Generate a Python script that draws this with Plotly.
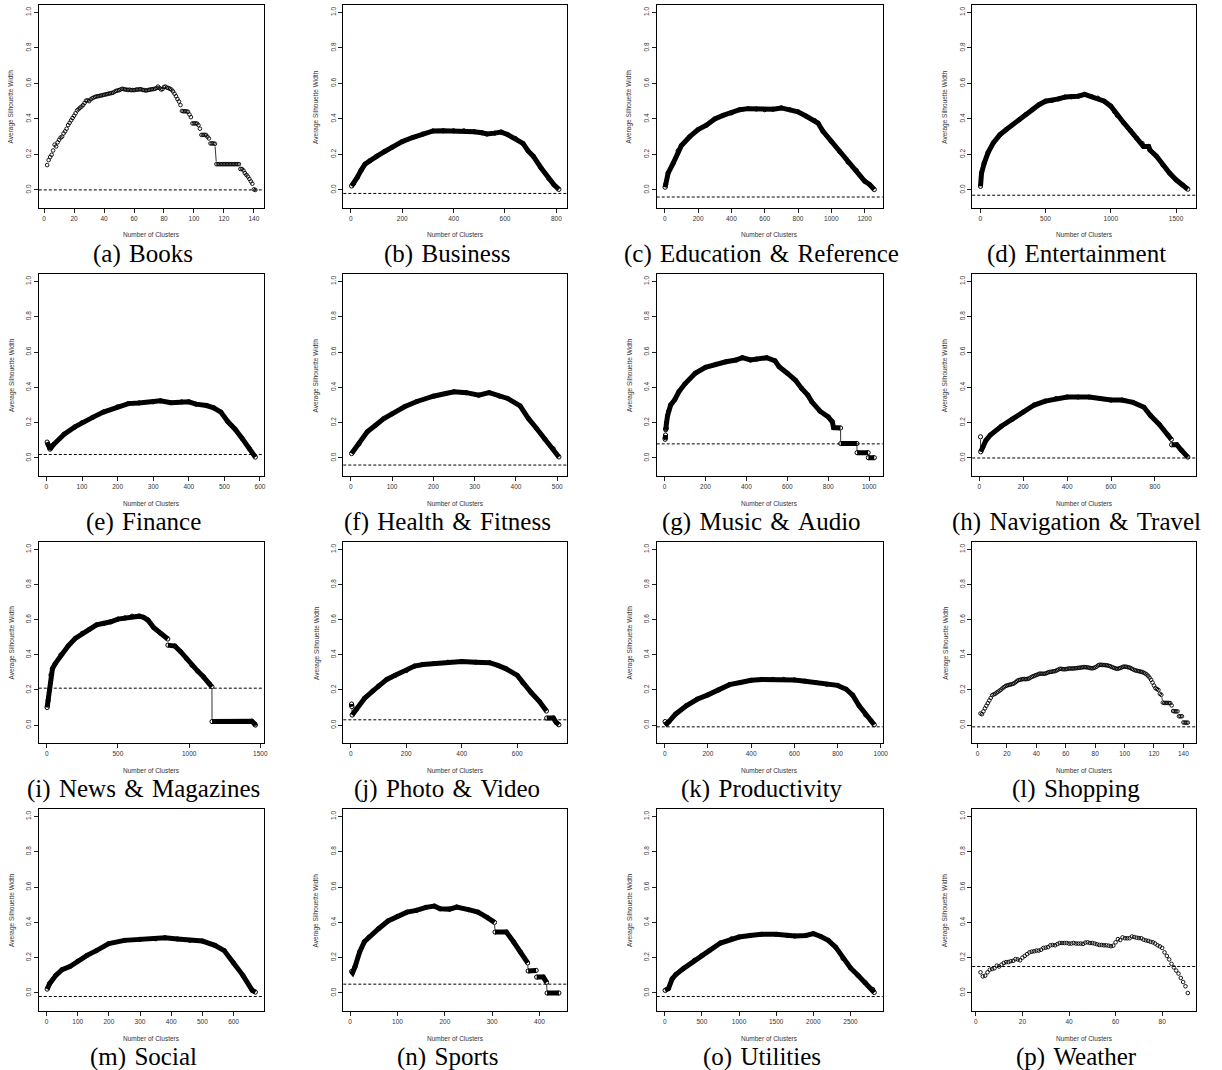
import math
import plotly.graph_objects as go

W, H = 1222, 1070
COLS = [(39, 265), (345, 570), (660, 887), (977, 1202)]
ROWS = [(5, 208), (274, 476), (542, 743), (809, 1011)]
Y_LO, Y_HI = -0.102, 1.042
SANS = "Liberation Sans, Arial, sans-serif"
SERIF = "Liberation Serif, Times New Roman, serif"


def px(v):
    return v / W


def py(v):
    return 1 - v / H


captions = ["(a) Books", "(b) Business", "(c) Education & Reference", "(d) Entertainment",
            "(e) Finance", "(f) Health & Fitness", "(g) Music & Audio", "(h) Navigation & Travel",
            "(i) News & Magazines", "(j) Photo & Video", "(k) Productivity", "(l) Shopping",
            "(m) Social", "(n) Sports", "(o) Utilities", "(p) Weather"]
hlines = [0.0, -0.02, -0.04, -0.03, 0.02, -0.04, 0.08, 0.0,
          0.21, 0.03, -0.01, -0.01, -0.02, 0.05, -0.02, 0.15]
xtick_steps = [20, 200, 200, 500, 100, 100, 200, 200, 500, 200, 200, 20, 100, 100, 500, 20]

# ---- sparse panels (every cluster count) ----
books_x = list(range(2, 142))
books_y = [0.140, 0.168, 0.185, 0.198, 0.222, 0.255, 0.245, 0.268, 0.282, 0.295,
           0.300, 0.318, 0.330, 0.345, 0.365, 0.378, 0.392, 0.405, 0.418, 0.432,
           0.448, 0.455, 0.463, 0.470, 0.478, 0.490, 0.503, 0.505, 0.500, 0.510,
           0.516, 0.520, 0.524, 0.527, 0.528, 0.530, 0.532, 0.534, 0.536, 0.538,
           0.540, 0.542, 0.544, 0.546, 0.548, 0.553, 0.558, 0.560, 0.562, 0.566,
           0.570, 0.568, 0.566, 0.565, 0.563, 0.565, 0.562, 0.563, 0.562, 0.564,
           0.566, 0.565, 0.568, 0.566, 0.563, 0.562, 0.560, 0.562, 0.564, 0.566,
           0.567, 0.568, 0.570, 0.574, 0.582, 0.574, 0.566, 0.568, 0.580, 0.582,
           0.576, 0.574, 0.570, 0.565, 0.555, 0.542, 0.528, 0.512, 0.498, 0.478,
           0.445, 0.443, 0.443, 0.443, 0.440, 0.425, 0.410, 0.375, 0.375, 0.375,
           0.374, 0.365, 0.345, 0.310, 0.310, 0.310, 0.310, 0.300, 0.290, 0.262,
           0.262, 0.262, 0.260, 0.145, 0.145, 0.145, 0.145, 0.145, 0.145, 0.145,
           0.145, 0.145, 0.145, 0.145, 0.145, 0.145, 0.145, 0.145, 0.145, 0.118,
           0.118, 0.110, 0.095, 0.085, 0.075, 0.062, 0.048, 0.035, 0.003, 0.000]

shop_x = list(range(2, 144))
shop_y = [0.066, 0.062, 0.078, 0.095, 0.110, 0.125, 0.140, 0.155, 0.170, 0.175,
          0.178, 0.185, 0.190, 0.196, 0.202, 0.210, 0.216, 0.222, 0.225, 0.228,
          0.230, 0.232, 0.235, 0.238, 0.245, 0.252, 0.256, 0.258, 0.260, 0.262,
          0.262, 0.261, 0.263, 0.265, 0.270, 0.275, 0.278, 0.282, 0.285, 0.288,
          0.292, 0.293, 0.292, 0.292, 0.293, 0.296, 0.300, 0.302, 0.303, 0.305,
          0.306, 0.308, 0.312, 0.316, 0.320, 0.320, 0.318, 0.318, 0.318, 0.320,
          0.322, 0.322, 0.322, 0.322, 0.323, 0.324, 0.325, 0.326, 0.327, 0.328,
          0.330, 0.330, 0.329, 0.328, 0.326, 0.324, 0.323, 0.325, 0.328, 0.333,
          0.340, 0.343, 0.343, 0.342, 0.342, 0.341, 0.340, 0.338, 0.335, 0.332,
          0.328, 0.325, 0.322, 0.320, 0.322, 0.325, 0.328, 0.332, 0.333, 0.332,
          0.330, 0.328, 0.325, 0.320, 0.316, 0.312, 0.310, 0.308, 0.306, 0.304,
          0.302, 0.298, 0.294, 0.288, 0.280, 0.270, 0.258, 0.242, 0.225, 0.210,
          0.205, 0.200, 0.178, 0.172, 0.128, 0.126, 0.126, 0.126, 0.126, 0.125,
          0.112, 0.080, 0.078, 0.078, 0.078, 0.050, 0.050, 0.050, 0.015, 0.014,
          0.014, 0.014]

weather_x = list(range(2, 92))
weather_y = [0.117, 0.094, 0.098, 0.117, 0.132, 0.136, 0.140, 0.155, 0.150, 0.160,
             0.170, 0.175, 0.175, 0.180, 0.182, 0.192, 0.190, 0.185, 0.200, 0.210,
             0.220, 0.230, 0.234, 0.236, 0.240, 0.240, 0.245, 0.255, 0.257, 0.260,
             0.270, 0.272, 0.270, 0.277, 0.283, 0.283, 0.283, 0.283, 0.280, 0.280,
             0.283, 0.280, 0.280, 0.280, 0.278, 0.285, 0.287, 0.283, 0.283, 0.280,
             0.276, 0.272, 0.272, 0.270, 0.270, 0.268, 0.265, 0.268, 0.287, 0.305,
             0.300, 0.315, 0.310, 0.310, 0.310, 0.320, 0.317, 0.313, 0.311, 0.310,
             0.302, 0.298, 0.295, 0.290, 0.287, 0.280, 0.270, 0.264, 0.255, 0.230,
             0.210, 0.190, 0.165, 0.145, 0.127, 0.110, 0.085, 0.062, 0.038, 0.000]

# ---- dense panels ----
bus_x = [3, 10, 25, 40, 55, 75, 100, 130, 160, 200, 240, 280, 320, 360, 400, 440, 480, 510, 530,
         560, 585, 610, 640, 670, 690, 710, 740, 770, 790, 810]
bus_y = [0.022, 0.035, 0.070, 0.110, 0.145, 0.165, 0.190, 0.215, 0.240, 0.272, 0.295, 0.315,
         0.332, 0.333, 0.333, 0.333, 0.328, 0.322, 0.315, 0.320, 0.326, 0.312, 0.290, 0.262,
         0.220, 0.190, 0.125, 0.065, 0.030, 0.003]

edu_x = [2, 5, 20, 50, 80, 100, 150, 200, 250, 300, 350, 400, 450, 500, 550, 600, 650, 700, 750,
         800, 850, 900, 920, 950, 1000, 1050, 1100, 1150, 1200, 1230, 1258]
edu_y = [0.015, 0.030, 0.095, 0.150, 0.220, 0.250, 0.300, 0.340, 0.365, 0.400, 0.420, 0.434,
         0.452, 0.458, 0.456, 0.452, 0.455, 0.462, 0.452, 0.440, 0.415, 0.390, 0.377, 0.330,
         0.273, 0.217, 0.157, 0.110, 0.050, 0.030, 0.002]

ent_x = [2, 10, 30, 60, 100, 150, 200, 300, 350, 400, 450, 500, 550, 600, 650, 700, 750, 800,
         850, 900, 950, 1000, 1030, 1050, 1100, 1150, 1200, 1240, 1250, 1290, 1300, 1350, 1400,
         1450, 1500, 1550, 1590]
ent_y = [0.020, 0.095, 0.150, 0.210, 0.265, 0.310, 0.340, 0.396, 0.425, 0.453, 0.480, 0.500,
         0.504, 0.513, 0.523, 0.525, 0.528, 0.538, 0.526, 0.517, 0.500, 0.472, 0.440, 0.420,
         0.377, 0.334, 0.290, 0.262, 0.245, 0.245, 0.225, 0.190, 0.140, 0.095, 0.057, 0.028,
         0.004]

fin_x = [2, 5, 9, 10, 20, 50, 80, 100, 130, 160, 200, 230, 260, 300, 320, 350, 380, 400, 420,
         450, 470, 490, 510, 530, 550, 570, 587]
fin_y = [0.090, 0.075, 0.060, 0.050, 0.076, 0.135, 0.176, 0.200, 0.230, 0.260, 0.290, 0.308,
         0.312, 0.318, 0.324, 0.313, 0.318, 0.318, 0.305, 0.297, 0.284, 0.260, 0.205, 0.163,
         0.110, 0.053, 0.005]

hea_x = [2, 20, 40, 60, 80, 100, 130, 160, 200, 230, 250, 280, 310, 335, 360, 380, 410, 430,
         450, 470, 490, 504]
hea_y = [0.025, 0.080, 0.148, 0.185, 0.223, 0.250, 0.290, 0.320, 0.350, 0.365, 0.375, 0.370,
         0.356, 0.370, 0.350, 0.337, 0.295, 0.224, 0.167, 0.106, 0.053, 0.006]

mus_x = [3, 4, 5, 6, 7, 8, 10, 15, 20, 30, 50, 70, 100, 150, 200, 250, 300, 350, 380, 420,
         450, 500, 540, 560, 600, 640, 670, 700, 720, 760, 800, 820, 826, 860, 861, 940, 941,
         995, 996, 1025]
mus_y = [0.106, 0.115, 0.130, 0.160, 0.165, 0.170, 0.200, 0.240, 0.265, 0.300, 0.330, 0.375,
         0.420, 0.480, 0.513, 0.530, 0.545, 0.555, 0.568, 0.555, 0.560, 0.568, 0.550, 0.517,
         0.480, 0.440, 0.394, 0.356, 0.318, 0.265, 0.233, 0.205, 0.172, 0.170, 0.082, 0.082,
         0.030, 0.030, 0.002, 0.002]

nav_x = [5, 6, 15, 30, 50, 100, 150, 200, 250, 300, 350, 400, 450, 500, 550, 600, 650, 700,
         750, 780, 820, 860, 875, 876, 900, 920, 950]
nav_y = [0.120, 0.035, 0.060, 0.100, 0.130, 0.180, 0.220, 0.260, 0.300, 0.322, 0.337, 0.345,
         0.345, 0.345, 0.337, 0.328, 0.328, 0.315, 0.287, 0.240, 0.190, 0.130, 0.105, 0.075,
         0.075, 0.045, 0.005]

news_x = [3, 10, 20, 30, 40, 60, 100, 150, 200, 250, 300, 350, 400, 450, 500, 550, 600, 650,
          680, 710, 750, 800, 850, 851, 900, 940, 980, 1020, 1060, 1100, 1140, 1160, 1161,
          1300, 1440, 1460, 1465]
news_y = [0.100, 0.140, 0.200, 0.285, 0.320, 0.350, 0.400, 0.450, 0.493, 0.522, 0.545, 0.570,
          0.578, 0.588, 0.603, 0.610, 0.620, 0.620, 0.613, 0.598, 0.556, 0.522, 0.490, 0.455,
          0.450, 0.418, 0.380, 0.340, 0.307, 0.275, 0.237, 0.218, 0.020, 0.020, 0.022, 0.006,
          0.000]

pho_x = [3, 4, 5, 20, 50, 80, 100, 130, 160, 200, 230, 260, 300, 350, 400, 450, 500, 530, 560,
         600, 620, 650, 680, 705, 706, 730, 740, 750]
pho_y = [0.120, 0.105, 0.057, 0.090, 0.153, 0.195, 0.222, 0.260, 0.283, 0.310, 0.336, 0.345,
         0.350, 0.358, 0.362, 0.358, 0.355, 0.340, 0.320, 0.283, 0.240, 0.185, 0.134, 0.080,
         0.040, 0.040, 0.015, 0.002]

pro_x = [2, 10, 20, 50, 100, 150, 200, 250, 300, 350, 400, 450, 500, 550, 600, 650, 700, 750,
         800, 840, 870, 900, 930, 955, 970]
pro_y = [0.020, 0.008, 0.020, 0.062, 0.110, 0.147, 0.172, 0.200, 0.230, 0.242, 0.255, 0.260,
         0.260, 0.260, 0.257, 0.250, 0.242, 0.232, 0.226, 0.204, 0.170, 0.110, 0.058, 0.025,
         0.002]

soc_x = [2, 10, 30, 50, 75, 100, 130, 160, 200, 250, 300, 350, 380, 420, 460, 500, 540, 570,
         600, 630, 660, 670]
soc_y = [0.022, 0.053, 0.100, 0.132, 0.150, 0.180, 0.213, 0.240, 0.280, 0.298, 0.304, 0.307,
         0.313, 0.306, 0.298, 0.294, 0.270, 0.240, 0.170, 0.100, 0.015, 0.005]

spo_x = [3, 5, 10, 20, 30, 40, 60, 80, 100, 120, 140, 160, 178, 190, 210, 225, 250, 270, 290,
         305, 306, 330, 345, 360, 375, 376, 393, 394, 408, 415, 416, 441]
spo_y = [0.122, 0.115, 0.147, 0.232, 0.290, 0.317, 0.364, 0.408, 0.434, 0.458, 0.468, 0.485,
         0.492, 0.477, 0.475, 0.487, 0.472, 0.458, 0.427, 0.400, 0.345, 0.345, 0.290, 0.232,
         0.170, 0.125, 0.128, 0.090, 0.090, 0.060, 0.000, 0.000]

uti_x = [5, 50, 100, 150, 250, 400, 500, 600, 750, 900, 1000, 1150, 1300, 1500, 1650, 1750,
         1900, 2000, 2100, 2200, 2300, 2400, 2500, 2600, 2700, 2800, 2820]
uti_y = [0.015, 0.025, 0.080, 0.105, 0.138, 0.185, 0.213, 0.240, 0.283, 0.307, 0.317, 0.326,
         0.332, 0.332, 0.326, 0.323, 0.326, 0.336, 0.320, 0.298, 0.260, 0.195, 0.142, 0.100,
         0.058, 0.020, 0.003]

series = [(books_x, books_y, True), (bus_x, bus_y, False), (edu_x, edu_y, False),
          (ent_x, ent_y, False), (fin_x, fin_y, False), (hea_x, hea_y, False),
          (mus_x, mus_y, False), (nav_x, nav_y, False), (news_x, news_y, False),
          (pho_x, pho_y, False), (pro_x, pro_y, False), (shop_x, shop_y, True),
          (soc_x, soc_y, False), (spo_x, spo_y, False), (uti_x, uti_y, False),
          (weather_x, weather_y, True)]

fig = go.Figure()
layout = {}
annotations = []
shapes = []
R_GAP = 2.6

for i, (xs, ys, sparse) in enumerate(series):
    n = i + 1
    r, c = divmod(i, 4)
    l, rr = COLS[c]
    t, b = ROWS[r]
    bw, bh = rr - l, b - t
    xa = "x" if n == 1 else f"x{n}"
    ya = "y" if n == 1 else f"y{n}"
    span = max(xs) - min(xs)
    xr = [min(xs) - 0.04 * span, max(xs) + 0.04 * span]
    sx = bw / (xr[1] - xr[0])
    sy = bh / (Y_HI - Y_LO)

    def is_jump(k):
        return (xs[k + 1] - xs[k]) <= 1 and abs(ys[k + 1] - ys[k]) > 0.02

    # thin connector segments (R type="b" style: gaps around points)
    cx, cy = [], []
    for k in range(len(xs) - 1):
        if sparse or is_jump(k):
            dxp = (xs[k + 1] - xs[k]) * sx
            dyp = (ys[k + 1] - ys[k]) * sy
            d = math.hypot(dxp, dyp)
            if d > 2 * R_GAP + 2:
                f = R_GAP / d
                cx += [xs[k] + (xs[k + 1] - xs[k]) * f, xs[k + 1] - (xs[k + 1] - xs[k]) * f, None]
                cy += [ys[k] + (ys[k + 1] - ys[k]) * f, ys[k + 1] - (ys[k + 1] - ys[k]) * f, None]
    if cx:
        fig.add_trace(go.Scatter(x=cx, y=cy, mode="lines", xaxis=xa, yaxis=ya,
                                 line=dict(color="black", width=0.8), hoverinfo="skip"))

    if not sparse:
        tx, ty = [], []
        for k in range(len(xs)):
            if k > 0 and is_jump(k - 1):
                tx.append(None)
                ty.append(None)
            tx.append(xs[k])
            ty.append(ys[k])
        fig.add_trace(go.Scatter(x=tx, y=ty, mode="lines", xaxis=xa, yaxis=ya,
                                 line=dict(color="black", width=5), hoverinfo="skip"))
        msize, mlw = 4.2, 1.0
    else:
        msize, mlw = 3.6, 0.9

    fig.add_trace(go.Scatter(x=xs, y=ys, mode="markers", xaxis=xa, yaxis=ya,
                             marker=dict(symbol="circle-open", size=msize, color="black",
                                         line=dict(color="black", width=mlw)),
                             hoverinfo="skip"))

    axis_common = dict(showline=True, mirror=True, linecolor="black", linewidth=1,
                       ticks="outside", ticklen=4, tickwidth=0.8, tickcolor="#222",
                       showgrid=False, zeroline=False,
                       tickfont=dict(family=SANS, size=6.5, color="#333"))
    layout["xaxis" if n == 1 else f"xaxis{n}"] = dict(
        domain=[px(l), px(rr)], range=xr, anchor=ya, tickmode="linear", tick0=0,
        dtick=xtick_steps[i], **axis_common)
    layout["yaxis" if n == 1 else f"yaxis{n}"] = dict(
        domain=[py(b), py(t)], range=[Y_LO, Y_HI], anchor=xa,
        tickvals=[0, 0.2, 0.4, 0.6, 0.8, 1.0],
        ticktext=["0.0", "0.2", "0.4", "0.6", "0.8", "1.0"], tickangle=-90, **axis_common)

    shapes.append(dict(type="line", xref=f"{xa} domain", x0=0, x1=1, yref=ya,
                       y0=hlines[i], y1=hlines[i],
                       line=dict(color="black", width=1, dash="3px,2px")))

    annotations.append(dict(text="Number of Clusters", xref="paper", yref="paper",
                            x=px((l + rr) / 2), y=py(b + 27), showarrow=False,
                            xanchor="center", yanchor="middle",
                            font=dict(family=SANS, size=6.5, color="#333")))
    annotations.append(dict(text="Average Silhouette Width", xref="paper", yref="paper",
                            x=px(l - 27), y=py((t + b) / 2), showarrow=False,
                            textangle=-90, xanchor="center", yanchor="middle",
                            font=dict(family=SANS, size=6.5, color="#333")))
    annotations.append(dict(text=captions[i].replace(" ", " \u200a"), xref="paper", yref="paper",
                            x=px((l + rr) / 2 - 8), y=py(b + 46), showarrow=False,
                            xanchor="center", yanchor="middle",
                            font=dict(family=SERIF, size=25, color="black")))

fig.update_layout(width=W, height=H, margin=dict(l=0, r=0, t=0, b=0),
                  paper_bgcolor="white", plot_bgcolor="white", showlegend=False,
                  annotations=annotations, shapes=shapes, **layout)
fig.write_html("out.html", config={"displayModeBar": False},
               post_script="document.body.style.margin='0px';document.body.style.overflow='hidden';")
